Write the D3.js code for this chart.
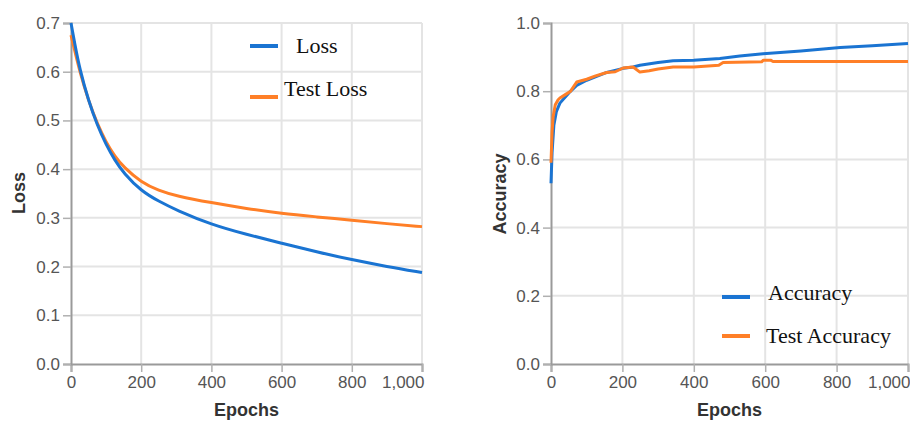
<!DOCTYPE html>
<html>
<head>
<meta charset="utf-8">
<script src="https://cdn.jsdelivr.net/npm/d3@7"></script>
<style>
  body { margin: 0; background: #fff; }
  .tick text { font-family: "Liberation Sans", Arial, sans-serif; font-size: 17px; fill: #555; }
  .axis-title { font-family: "Liberation Sans", Arial, sans-serif; font-size: 18px; font-weight: bold; fill: #333; }
  .legend text { font-family: "Liberation Serif", "Times New Roman", serif; font-size: 22px; fill: #111; }
</style>
</head>
<body>
<div id="chart"></div>
<script>
// Loss panel
const lossEpochs = [0, 10, 25, 50, 75, 100, 125, 150, 200, 250, 300, 400, 500, 600, 700, 800, 900, 1000];
const lossTrain  = [0.700, 0.660, 0.605, 0.540, 0.490, 0.450, 0.418, 0.392, 0.355, 0.334, 0.316, 0.286, 0.266, 0.248, 0.230, 0.214, 0.200, 0.188];
const lossTest   = [0.675, 0.645, 0.600, 0.540, 0.493, 0.455, 0.426, 0.404, 0.373, 0.356, 0.345, 0.331, 0.319, 0.309, 0.302, 0.295, 0.288, 0.282];

// Accuracy panel
const accEpochs = [0, 3, 8, 15, 25, 50, 72, 100, 156, 202, 230, 249, 300, 342, 400, 473, 529, 594, 700, 810, 900, 1000];
const accTrain  = [0.53, 0.62, 0.70, 0.74, 0.765, 0.795, 0.817, 0.832, 0.855, 0.867, 0.871, 0.876, 0.884, 0.889, 0.891, 0.896, 0.903, 0.910, 0.918, 0.928, 0.933, 0.940];
const testAccEpochs = [0, 3, 6, 12, 20, 25, 40, 55, 72, 100, 125, 156, 180, 202, 230, 249, 275, 300, 342, 400, 470, 482, 590, 595, 615, 622, 1000];
const accTest   = [0.59, 0.68, 0.725, 0.76, 0.775, 0.78, 0.79, 0.80, 0.827, 0.835, 0.845, 0.855, 0.857, 0.868, 0.871, 0.856, 0.860, 0.865, 0.871, 0.871, 0.876, 0.884, 0.886, 0.891, 0.891, 0.887, 0.887];

const xTicks = [0, 200, 400, 600, 800, 1000];
const lossTicks = [0, 0.1, 0.2, 0.3, 0.4, 0.5, 0.6, 0.7];
const accTicks = [0, 0.2, 0.4, 0.6, 0.8, 1.0];

const blue = "#1a74d2";
const orange = "#ff7f27";

const svg = d3.select("#chart").append("svg")
  .attr("width", 910)
  .attr("height", 421);

function panel(opts) {
  const x = d3.scaleLinear().domain([0, 1000]).range([opts.left, opts.right]);
  const y = d3.scaleLinear().domain([0, opts.ymax]).range([364, 23]);
  const g = svg.append("g");

  // grid
  g.append("g").selectAll("line")
    .data(xTicks.slice(1))
    .enter().append("line")
    .attr("x1", d => x(d)).attr("x2", d => x(d))
    .attr("y1", y(0)).attr("y2", y(opts.ymax))
    .attr("stroke", "#e4e4e4").attr("stroke-width", 2);
  g.append("g").selectAll("line")
    .data(opts.yTicks.slice(1))
    .enter().append("line")
    .attr("x1", x(0)).attr("x2", x(1000))
    .attr("y1", d => y(d)).attr("y2", d => y(d))
    .attr("stroke", "#e4e4e4").attr("stroke-width", 2);

  // axes
  const xAxis = g.append("g")
    .attr("transform", `translate(0,${y(0)})`)
    .call(d3.axisBottom(x).tickValues(xTicks).tickFormat(d3.format(",")).tickSize(8).tickPadding(4));
  // last label sits flush with the axis end
  xAxis.selectAll(".tick").filter(d => d === 1000).select("text")
    .attr("text-anchor", "end").attr("x", 2);
  const yAxis = g.append("g")
    .attr("transform", `translate(${x(0)},0)`)
    .call(d3.axisLeft(y).tickValues(opts.yTicks).tickFormat(d3.format(".1f")).tickSize(8).tickPadding(3));
  [xAxis, yAxis].forEach(a => {
    a.select(".domain").attr("stroke", "#9a9a9a").attr("stroke-width", 2);
    a.selectAll(".tick line").attr("stroke", "#b0b0b0").attr("stroke-width", 1.5);
  });

  // lines
  opts.series.forEach(s => {
    const line = d3.line()
      .x((d, i) => x(s.epochs[i]))
      .y(d => y(d))
      .curve(opts.curve);
    g.append("path")
      .datum(s.values)
      .attr("fill", "none")
      .attr("stroke", s.color)
      .attr("stroke-width", 3)
      .attr("stroke-linejoin", "round")
      .attr("d", line);
  });

  // axis titles
  g.append("text")
    .attr("class", "axis-title")
    .attr("x", (x(0) + x(1000)) / 2)
    .attr("y", 416)
    .attr("text-anchor", "middle")
    .text("Epochs");
  g.append("text")
    .attr("class", "axis-title")
    .attr("transform", `translate(${opts.yTitleX},${opts.yTitleY}) rotate(-90)`)
    .attr("text-anchor", "middle")
    .text(opts.yTitle);

  // legend
  const lg = g.append("g").attr("class", "legend");
  opts.legend.forEach(l => {
    lg.append("line")
      .attr("x1", l.lx).attr("x2", l.lx + 28)
      .attr("y1", l.ly).attr("y2", l.ly)
      .attr("stroke", l.color).attr("stroke-width", 4);
    lg.append("text")
      .attr("x", l.tx).attr("y", l.ty)
      .text(l.label);
  });
}

panel({
  left: 71, right: 422, ymax: 0.7, yTicks: lossTicks,
  curve: d3.curveBasis,
  series: [
    { epochs: lossEpochs, values: lossTest, color: orange },
    { epochs: lossEpochs, values: lossTrain, color: blue }
  ],
  yTitle: "Loss", yTitleX: 25, yTitleY: 193,
  legend: [
    { label: "Loss", color: blue, lx: 250, ly: 46, tx: 296, ty: 53 },
    { label: "Test Loss", color: orange, lx: 250, ly: 97, tx: 284, ty: 96 }
  ]
});

panel({
  left: 551, right: 908, ymax: 1.0, yTicks: accTicks,
  curve: d3.curveLinear,
  series: [
    { epochs: accEpochs, values: accTrain, color: blue },
    { epochs: testAccEpochs, values: accTest, color: orange }
  ],
  yTitle: "Accuracy", yTitleX: 506, yTitleY: 194,
  legend: [
    { label: "Accuracy", color: blue, lx: 722, ly: 297, tx: 768, ty: 300 },
    { label: "Test Accuracy", color: orange, lx: 722, ly: 336, tx: 766, ty: 343 }
  ]
});
</script>
</body>
</html>
